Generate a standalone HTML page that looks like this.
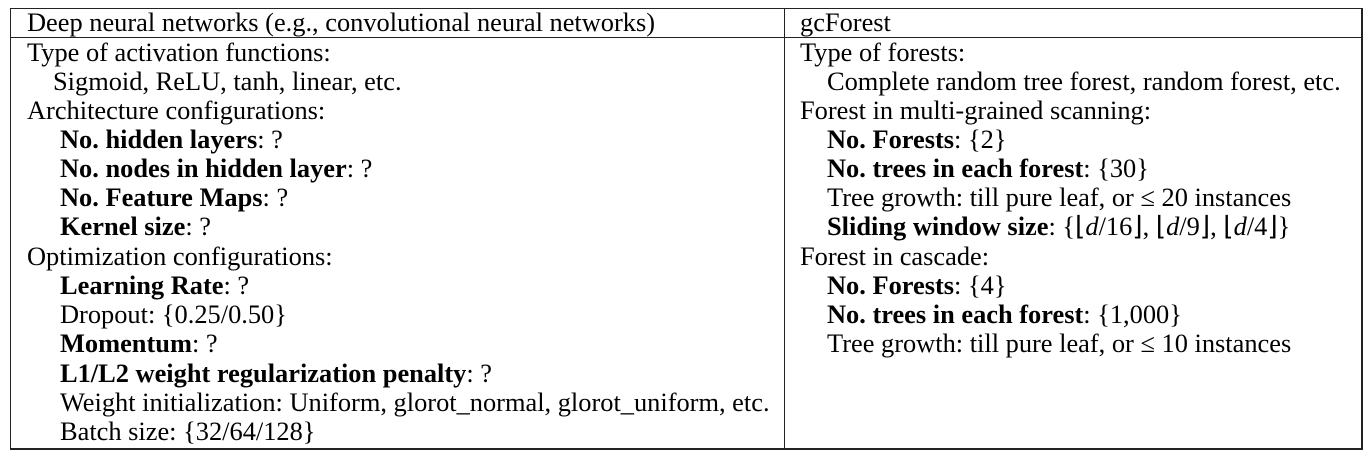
<!DOCTYPE html>
<html><head><meta charset="utf-8"><style>
body{margin:0;width:1372px;height:462px;background:#fff;position:relative;overflow:hidden;font-family:"Liberation Serif",serif;font-size:26.4px;color:#000}
.l{position:absolute;white-space:nowrap;line-height:29px}
.b{position:absolute;background:#222}
</style></head><body>
<div class="b" style="left:10px;top:8px;width:1353px;height:1px"></div>
<div class="b" style="left:10px;top:37px;width:1353px;height:1px"></div>
<div class="b" style="left:10px;top:448px;width:1353px;height:2px"></div>
<div class="b" style="left:10px;top:8px;width:1px;height:442px"></div>
<div class="b" style="left:1361px;top:8px;width:2px;height:442px"></div>
<div class="b" style="left:784px;top:8px;width:1px;height:442px"></div>

<div class="l" style="left:27px;top:8px">Deep neural networks (e.g., convolutional neural networks)</div>
<div class="l" style="left:800px;top:8px">gcForest</div>

<div>
<div class="l" style="left:27px;top:38px">Type of activation functions:</div>
<div class="l" style="left:53px;top:67px">Sigmoid, ReLU, tanh, linear, etc.</div>
<div class="l" style="left:27px;top:96px">Architecture configurations:</div>
<div class="l" style="left:60px;top:125px"><b>No. hidden layers</b>: ?</div>
<div class="l" style="left:60px;top:154px"><b>No. nodes in hidden layer</b>: ?</div>
<div class="l" style="left:60px;top:183px"><b>No. Feature Maps</b>: ?</div>
<div class="l" style="left:60px;top:212px"><b>Kernel size</b>: ?</div>
<div class="l" style="left:27px;top:242px">Optimization configurations:</div>
<div class="l" style="left:60px;top:271px"><b>Learning Rate</b>: ?</div>
<div class="l" style="left:60px;top:300px">Dropout: {0.25/0.50}</div>
<div class="l" style="left:60px;top:329px"><b>Momentum</b>: ?</div>
<div class="l" style="left:60px;top:359px"><b>L1/L2 weight regularization penalty</b>: ?</div>
<div class="l" style="left:60px;top:388px">Weight initialization: Uniform, glorot_normal, glorot_uniform, etc.</div>
<div class="l" style="left:60px;top:417px">Batch size: {32/64/128}</div>
</div>

<div>
<div class="l" style="left:800px;top:38px">Type of forests:</div>
<div class="l" style="left:827px;top:67px">Complete random tree forest, random forest, etc.</div>
<div class="l" style="left:800px;top:96px">Forest in multi-grained scanning:</div>
<div class="l" style="left:827px;top:125px"><b>No. Forests</b>: {2}</div>
<div class="l" style="left:827px;top:154px"><b>No. trees in each forest</b>: {30}</div>
<div class="l" style="left:827px;top:183px">Tree growth: till pure leaf, or ≤ 20 instances</div>
<div class="l" style="left:827px;top:212px"><b>Sliding window size</b>: {⌊<i>d</i>/16⌋, ⌊<i>d</i>/9⌋, ⌊<i>d</i>/4⌋}</div>
<div class="l" style="left:800px;top:242px">Forest in cascade:</div>
<div class="l" style="left:827px;top:271px"><b>No. Forests</b>: {4}</div>
<div class="l" style="left:827px;top:300px"><b>No. trees in each forest</b>: {1,000}</div>
<div class="l" style="left:827px;top:329px">Tree growth: till pure leaf, or ≤ 10 instances</div>
</div>
</body></html>
